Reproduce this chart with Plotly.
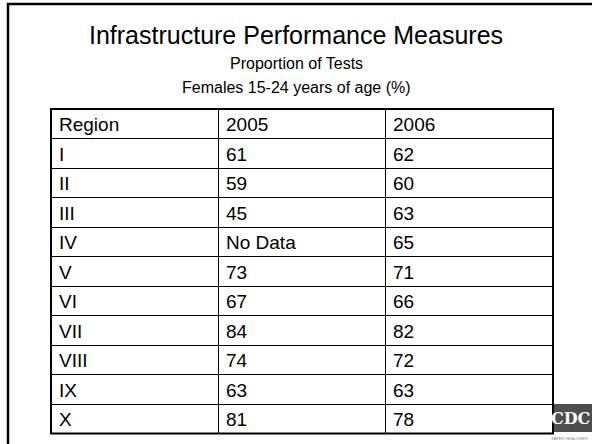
import plotly.graph_objects as go

W, H = 592, 444

title = "Infrastructure Performance Measures"
subtitle1 = "Proportion of Tests"
subtitle2 = "Females 15-24 years of age (%)"

header = ["Region", "2005", "2006"]
regions = ["I", "II", "III", "IV", "V", "VI", "VII", "VIII", "IX", "X"]
v2005 = ["61", "59", "45", "No Data", "73", "67", "84", "74", "63", "81"]
v2006 = ["62", "60", "63", "65", "71", "66", "82", "72", "63", "78"]

FONT = "Liberation Sans, Arial, sans-serif"


def px(x):
    return x / W


def py(y):
    return 1 - y / H


tbl_left, tbl_right, tbl_top = 51, 553, 109
row_h = 29.5

fig = go.Figure()
fig.add_trace(go.Table(
    domain=dict(x=[px(tbl_left), px(tbl_right)], y=[py(436), py(tbl_top)]),
    columnwidth=[1, 1, 1],
    header=dict(values=header, align="left", height=row_h,
                line=dict(color="#000000", width=1),
                fill=dict(color="white"),
                font=dict(family=FONT, size=19, color="black")),
    cells=dict(values=[regions, v2005, v2006], align="left", height=row_h,
               line=dict(color="#000000", width=1),
               fill=dict(color="white"),
               font=dict(family=FONT, size=19, color="black")),
))

shapes = [
    # slide frame (left & top visible)
    dict(type="rect", xref="paper", yref="paper", x0=px(8), x1=px(700), y0=py(560), y1=py(4),
         line=dict(color="black", width=2.5), layer="above"),
    # table outer border
    dict(type="rect", xref="paper", yref="paper", x0=px(tbl_left), x1=px(tbl_right),
         y0=py(tbl_top + 11 * row_h), y1=py(tbl_top),
         line=dict(color="black", width=2), layer="above"),
    # CDC logo box
    dict(type="rect", xref="paper", yref="paper", x0=px(548), x1=px(600), y0=py(432), y1=py(404),
         fillcolor="#4d4d4d", line=dict(width=0), layer="below"),
]

annotations = [
    dict(text=title, x=0.5, y=py(35), xref="paper", yref="paper", showarrow=False,
         font=dict(family=FONT, size=25, color="black"), xanchor="center", yanchor="middle"),
    dict(text=subtitle1, x=0.5, y=py(63), xref="paper", yref="paper", showarrow=False,
         font=dict(family=FONT, size=16, color="black"), xanchor="center", yanchor="middle"),
    dict(text=subtitle2, x=0.5, y=py(87), xref="paper", yref="paper", showarrow=False,
         font=dict(family=FONT, size=16, color="black"), xanchor="center", yanchor="middle"),
    dict(text="<b>CDC</b>", x=px(549), y=py(418), xref="paper", yref="paper", showarrow=False,
         font=dict(family="DejaVu Serif, serif", size=16, color="white"),
         xanchor="left", yanchor="middle"),
    dict(text="SAFER·HEALTHIER", x=px(549), y=py(438), xref="paper", yref="paper",
         showarrow=False, font=dict(family=FONT, size=4, color="#888888"),
         xanchor="left", yanchor="middle"),
]

fig.update_layout(
    width=W, height=H,
    margin=dict(l=0, r=0, t=0, b=0),
    paper_bgcolor="white", plot_bgcolor="white",
    shapes=shapes, annotations=annotations,
    showlegend=False,
)
fig.update_xaxes(visible=False)
fig.update_yaxes(visible=False)

fig.write_html("out.html", config={"displayModeBar": False},
               post_script="document.body.style.margin='0px';document.body.style.overflow='hidden';")
